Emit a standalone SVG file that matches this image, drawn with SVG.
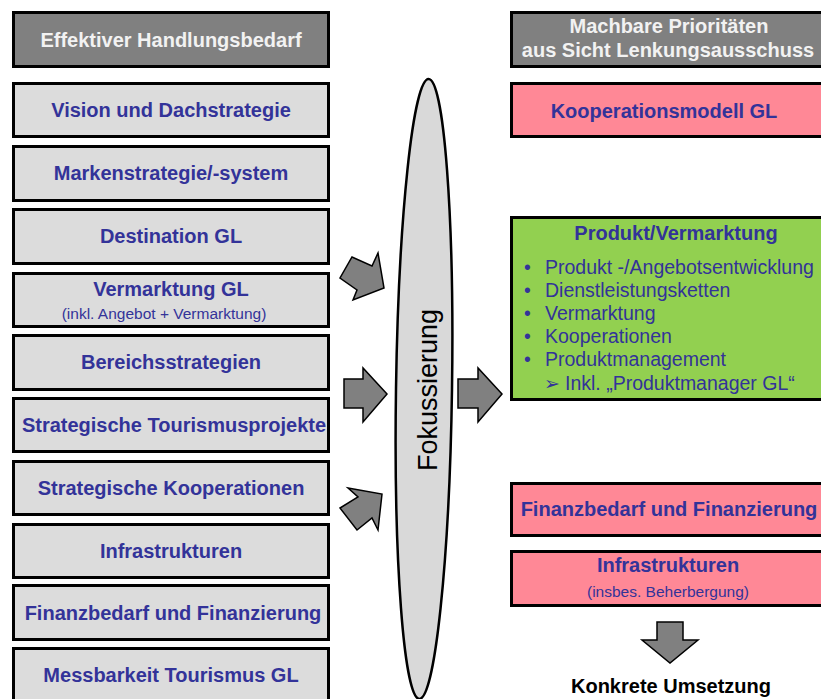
<svg xmlns="http://www.w3.org/2000/svg" width="821" height="699" viewBox="0 0 821 699">
<style>
.box{stroke:#000;stroke-width:3}
.hdr{fill:#808080}
.lg{fill:#dcdcdc}
.pk{fill:#ff8896}
.gr{fill:#92d050}
.t{font-family:"Liberation Sans",Arial,sans-serif;font-weight:bold;font-size:20px;fill:#333399;text-anchor:middle}
.th{font-family:"Liberation Sans",Arial,sans-serif;font-weight:bold;font-size:20px;fill:#f2f2f2;text-anchor:middle}
.ts{font-family:"Liberation Sans",Arial,sans-serif;font-size:15.5px;fill:#333399;text-anchor:middle}
.tb{font-family:"Liberation Sans",Arial,sans-serif;font-size:19.5px;fill:#333399}
.arr{fill:#808080;stroke:#000;stroke-width:1.5;stroke-linejoin:miter}
</style>
<rect width="821" height="699" fill="#fff"/>
<g id="left">
<g id="l-header"><rect class="box hdr" x="13.5" y="12.5" width="315" height="54"/><text class="th" x="171" y="47">Effektiver Handlungsbedarf</text></g>
<g id="l-vision"><rect class="box lg" x="13.5" y="83.5" width="315" height="53"/><text class="t" x="171" y="117">Vision und Dachstrategie</text></g>
<g id="l-marken"><rect class="box lg" x="13.5" y="146.5" width="315" height="54"/><text class="t" x="171" y="180">Markenstrategie/-system</text></g>
<g id="l-destination"><rect class="box lg" x="13.5" y="209.5" width="315" height="54"/><text class="t" x="171" y="243">Destination GL</text></g>
<g id="l-vermarktung"><rect class="box lg" x="13.5" y="273.5" width="315" height="53"/><text class="t" x="171" y="296">Vermarktung GL</text><text class="ts" x="164" y="319">(inkl. Angebot  + Vermarktung)</text></g>
<g id="l-bereich"><rect class="box lg" x="13.5" y="335.5" width="315" height="54"/><text class="t" x="171" y="369">Bereichsstrategien</text></g>
<g id="l-tourismusprojekte"><rect class="box lg" x="13.5" y="398.5" width="315" height="53"/><text class="t" x="174" y="432">Strategische Tourismusprojekte</text></g>
<g id="l-kooperationen"><rect class="box lg" x="13.5" y="461.5" width="315" height="53"/><text class="t" x="171" y="495">Strategische Kooperationen</text></g>
<g id="l-infra"><rect class="box lg" x="13.5" y="524.5" width="315" height="53"/><text class="t" x="171" y="558">Infrastrukturen</text></g>
<g id="l-finanz"><rect class="box lg" x="13.5" y="585.5" width="315" height="54"/><text class="t" x="173" y="620">Finanzbedarf und Finanzierung</text></g>
<g id="l-mess"><rect class="box lg" x="13.5" y="648.5" width="315" height="54"/><text class="t" x="171" y="682">Messbarkeit Tourismus GL</text></g>
</g>
<g id="fokus">
<ellipse cx="424" cy="389" rx="28" ry="310" transform="rotate(0.85 424 389)" fill="#d9d9d9" stroke="#000" stroke-width="2.5"/>
<text transform="translate(437 390) rotate(-90)" x="0" y="0" text-anchor="middle" font-family="Liberation Sans,Arial,sans-serif" font-size="27" fill="#000">Fokussierung</text>
</g>
<g id="connectors">
<polygon class="arr" points="378,253 384,288 353,300 357,290 340,278 352,257 372,266"/>
<polygon class="arr" points="344,379 363,379 363,368 387,394 363,422 363,408 344,408"/>
<polygon class="arr" points="348,488 382,494 378,530 372,518 357,530 340,508 358,497"/>
<polygon class="arr" points="458,379 478,379 478,368 502,394 478,422 478,408 458,408"/>
<polygon class="arr" points="657,622 683,622 683,640 698,640 670,663 642,640 657,640"/>
</g>
<g id="right">
<g id="r-header"><rect class="box hdr" x="511.5" y="12.5" width="316" height="54"/><text class="th" x="669" y="33">Machbare Prioritäten</text><text class="th" x="668" y="57">aus Sicht Lenkungsausschuss</text></g>
<g id="r-kooperationsmodell"><rect class="box pk" x="511.5" y="83.5" width="316" height="53"/><text class="t" x="664" y="118">Kooperationsmodell GL</text></g>
<g id="r-produkt"><rect class="box gr" x="511.5" y="217.5" width="316" height="182"/>
<text class="t" x="676" y="240">Produkt/Vermarktung</text>
<g class="tb">
<text x="524" y="274">•</text><text x="545" y="274">Produkt -/Angebotsentwicklung</text>
<text x="524" y="297">•</text><text x="545" y="297">Dienstleistungsketten</text>
<text x="524" y="320">•</text><text x="545" y="320">Vermarktung</text>
<text x="524" y="343">•</text><text x="545" y="343">Kooperationen</text>
<text x="524" y="366">•</text><text x="545" y="366">Produktmanagement</text>
<text x="544" y="390" font-family="DejaVu Sans,sans-serif" font-size="19">➢</text><text x="565" y="390">Inkl. „Produktmanager GL“</text>
</g>
</g>
<g id="r-finanz"><rect class="box pk" x="511.5" y="483.5" width="316" height="52"/><text class="t" x="669" y="516">Finanzbedarf und Finanzierung</text></g>
<g id="r-infra"><rect class="box pk" x="511.5" y="551.5" width="316" height="54"/><text class="t" x="668" y="572">Infrastrukturen</text><text class="ts" x="668" y="597">(insbes. Beherbergung)</text></g>
<g id="r-umsetzung"><text x="671" y="693" text-anchor="middle" font-family="Liberation Sans,Arial,sans-serif" font-weight="bold" font-size="20" fill="#000">Konkrete Umsetzung</text></g>
</g>
</svg>
